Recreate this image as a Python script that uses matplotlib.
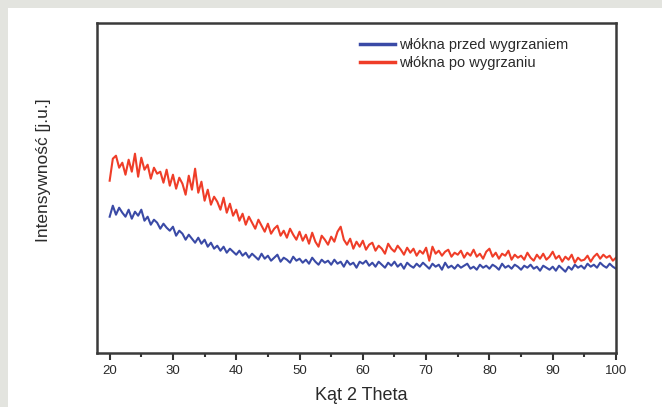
import numpy as np
import matplotlib
matplotlib.use("Agg")
import matplotlib.pyplot as plt
from matplotlib.patches import Rectangle
from matplotlib.ticker import MultipleLocator

plt.rcParams['font.family'] = ['Liberation Sans', 'DejaVu Sans']

# 2-theta angle grid (degrees)
theta = np.arange(20.0, 100.01, 0.5)

# Intensity (arbitrary units), fibres before annealing
before = [
    136, 147, 138, 145, 140, 136, 143, 134, 141, 137,
    143, 132, 136, 128, 133, 130, 124, 129, 125, 122,
    126, 117, 122, 119, 113, 118, 114, 110, 115, 109,
    113, 106, 110, 104, 107, 102, 106, 100, 104, 101,
    98, 102, 97, 100, 95, 99, 96, 93, 99, 94,
    97, 92, 95, 98, 91, 95, 93, 90, 96, 92,
    94, 90, 93, 89, 95, 91, 88, 93, 90, 92,
    88, 93, 89, 91, 86, 92, 88, 90, 85, 91,
    89, 92, 87, 90, 86, 91, 88, 85, 90, 87,
    91, 86, 89, 84, 90, 87, 85, 89, 86, 90,
    87, 84, 89, 86, 88, 83, 90, 85, 87, 84,
    88, 85, 87, 89, 84, 86, 83, 88, 85, 87,
    84, 88, 86, 83, 89, 85, 87, 84, 88, 86,
    83, 87, 85, 88, 84, 86, 82, 87, 85, 83,
    86, 82, 87, 84, 81, 86, 83, 88, 85, 87,
    84, 89, 86, 88, 85, 90, 87, 85, 89, 86,
    84,
]

# Intensity (arbitrary units), fibres after annealing
after = [
    172, 194, 197, 185, 190, 178, 193, 181, 199, 176,
    195, 183, 188, 174, 185, 179, 181, 170, 183, 167,
    178, 164, 175, 169, 158, 177, 163, 184, 160, 171,
    152, 163, 148, 156, 151, 143, 155, 140, 149, 137,
    143, 132, 139, 128, 136, 130, 124, 133, 127, 121,
    129, 119, 124, 127, 117, 122, 115, 124, 118, 113,
    121, 112, 118, 109, 120, 111, 106, 117, 113, 108,
    116, 111, 121, 126, 113, 108, 114, 104, 111, 106,
    112, 103, 108, 110, 102, 107, 104, 99, 109, 104,
    101, 107, 103, 98, 105, 100, 104, 97, 102, 99,
    105, 92, 106, 99, 102, 97, 101, 103, 96, 100,
    98, 102, 95, 100, 97, 103, 96, 99, 94, 101,
    104, 96, 100, 94, 99, 97, 102, 93, 98, 95,
    97, 93, 100, 95, 92, 98, 94, 99, 93, 96,
    101, 94, 97, 91, 96, 93, 98, 90, 95, 92,
    93, 97, 91, 96, 99, 94, 98, 95, 97, 92,
    95,
]

labels = ["włókna przed wygrzaniem", "włókna po wygrzaniu"]
xticks = [20, 30, 40, 50, 60, 70, 80, 90, 100]

W, H = 662, 407
fig = plt.figure(figsize=(W / 100, H / 100), dpi=100)
fig.patch.set_facecolor('#e3e4df')
fig.patches.append(Rectangle((8 / W, 0), 1, (H - 8) / H, transform=fig.transFigure,
                             facecolor='white', edgecolor='none', zorder=-10))

ax = fig.add_axes([97 / W, (H - 352.7) / H, 519 / W, 330 / H])
ax.set_zorder(1)
ax.set_facecolor('white')

blue = '#3a4aa6'
red = '#ef3d28'
ax.plot(theta, before, color=blue, lw=1.5, label=labels[0])
ax.plot(theta, after, color=red, lw=1.5, label=labels[1])

ax.set_xlim(18.0, 100)
ax.set_ylim(0, 330)
ax.set_xticks(xticks)
ax.xaxis.set_minor_locator(MultipleLocator(5))
ax.set_yticks([])
ax.tick_params(axis='x', which='major', direction='out', length=5, width=1.5,
               color='#333333', labelsize=9.5, labelcolor='#2a2a2a', pad=4)
ax.tick_params(axis='x', which='minor', direction='out', length=3, width=1.5, color='#333333')
for s in ax.spines.values():
    s.set_linewidth(1.8)
    s.set_color('#3a3a3a')

fig.text(361 / W, 1 - 396 / H, "Kąt 2 Theta", ha='center', va='center',
         fontsize=13, color='#2a2a2a')
fig.text(44 / W, 1 - 170 / H, "Intensywność [j.u.]", ha='center', va='center',
         rotation=90, fontsize=12.5, color='#2a2a2a')

leg = ax.legend(loc='upper left', bbox_to_anchor=((360 - 97) / 519, 1 - (38 - 22.7) / 330),
                frameon=False, fontsize=10.5, handlelength=2.4, handletextpad=0.3,
                labelspacing=0.25, borderaxespad=0, borderpad=0)
for t in leg.get_texts():
    t.set_color('#2a2a2a')
for h in leg.get_lines():
    h.set_linewidth(2.5)

fig.savefig('out.png', dpi=100, facecolor=fig.get_facecolor())
